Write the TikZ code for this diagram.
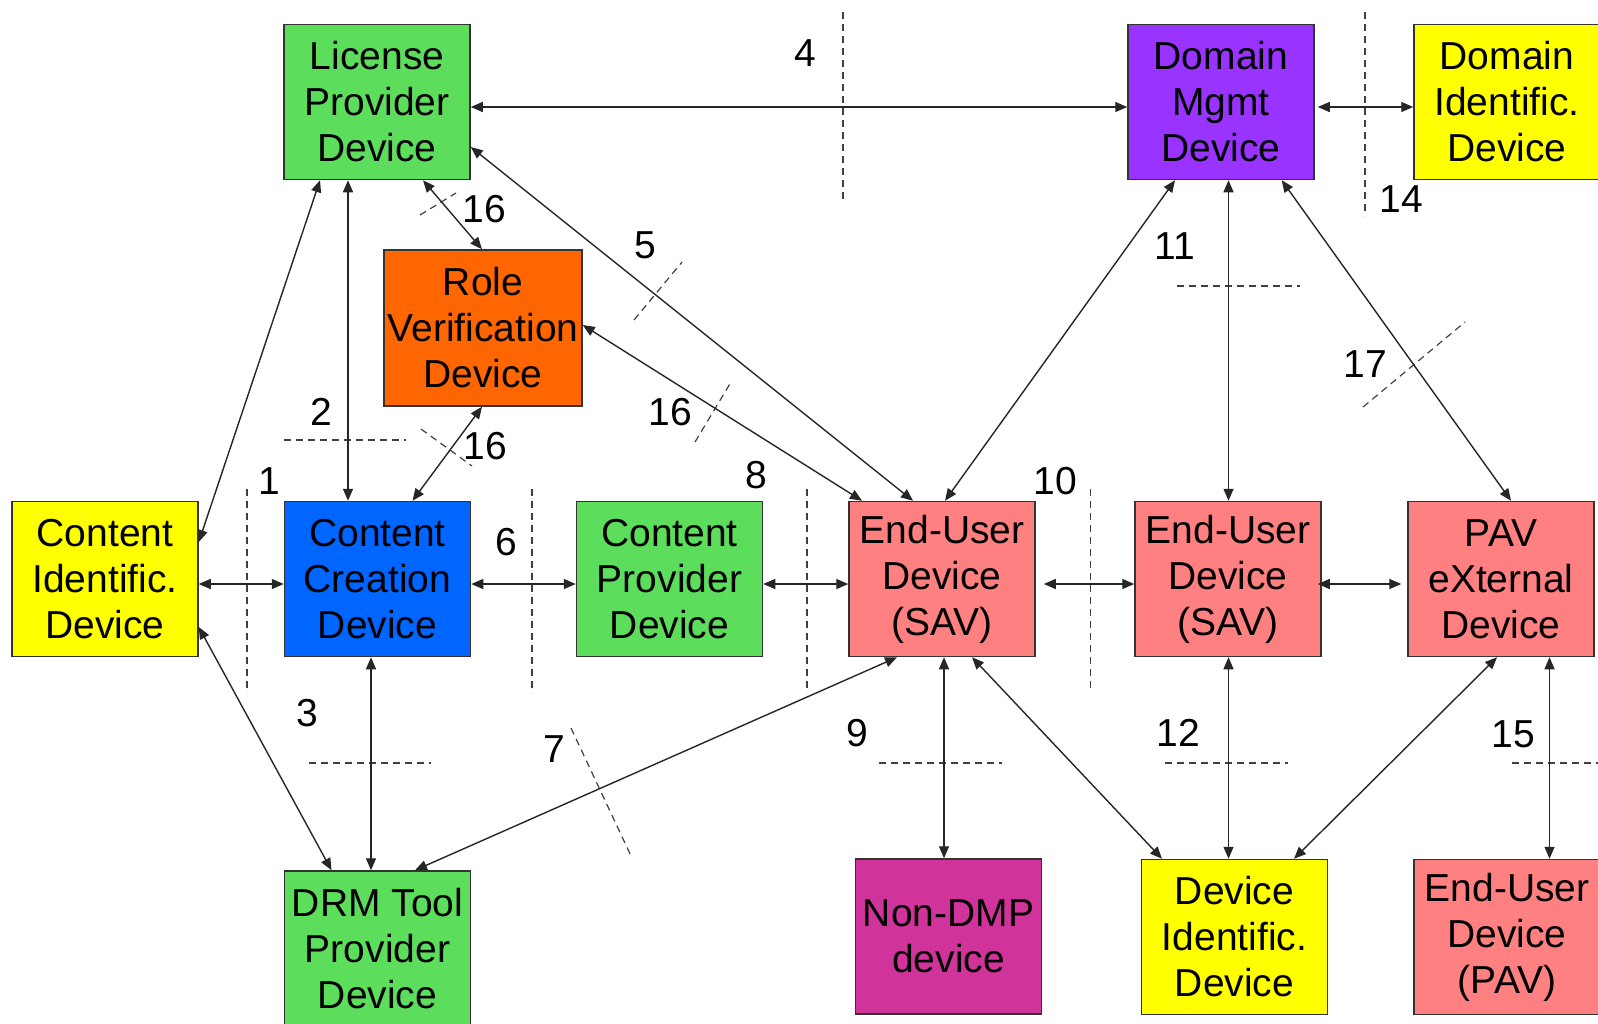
\documentclass[tikz,border=0pt]{standalone}
\usepackage{fontspec}
\setmainfont{Liberation Sans}
\usetikzlibrary{arrows.meta,calc}

\definecolor{devgreen}{RGB}{92,221,92}
\definecolor{devyellow}{RGB}{255,255,0}
\definecolor{devblue}{RGB}{0,102,255}
\definecolor{devorange}{RGB}{255,102,0}
\definecolor{devpurple}{RGB}{153,51,255}
\definecolor{devpink}{RGB}{255,128,128}
\definecolor{devmagenta}{RGB}{208,51,153}
\definecolor{edgegray}{RGB}{51,51,51}

\tikzset{
  device/.style={draw=edgegray, line width=0.75pt, inner sep=0pt, align=center,
    minimum width=93pt, minimum height=77.5pt,
    font=\fontsize{19.5pt}{23pt}\selectfont},
  num/.style={inner sep=0pt, font=\fontsize{19.5pt}{23pt}\selectfont},
  conn/.style={draw=black!85, line width=0.7pt,
    {Triangle[length=6pt,width=5pt]}-{Triangle[length=6pt,width=5pt]}},
  border/.style={draw=black!75, line width=0.6pt, dash pattern=on 3.5pt off 2.5pt},
}

\begin{document}
\begin{tikzpicture}[x=0.5pt,y=-0.5pt]
\useasboundingbox (0,0) rectangle (1598,1023);
\clip (0,0) rectangle (1598,1023);
\fill[white] (0,0) rectangle (1598,1023);

% devices, top row
\node[device, fill=devgreen]  (LP) at (377,102)    {License\\Provider\\Device};
\node[device, fill=devpurple] (DM) at (1221,102) {Domain\\Mgmt\\Device};
\node[device, fill=devyellow] (DI) at (1507,102) {Domain\\Identific.\\Device};
\node[device, fill=devorange, minimum width=99pt, minimum height=78pt] (RV) at (483,328) {Role\\Verification\\Device};

% devices, middle row
\node[device, fill=devyellow] (CI)  at (105,579)   {Content\\Identific.\\Device};
\node[device, fill=devblue]   (CC)  at (377.5,579) {Content\\Creation\\Device};
\node[device, fill=devgreen]  (CP)  at (669.5,579) {Content\\Provider\\Device};
\node[device, fill=devpink]   (EU1) at (942,579)   {End-User\\Device\\(SAV)};
\node[device, fill=devpink]   (EU2) at (1228,579)  {End-User\\Device\\(SAV)};
\node[device, fill=devpink]   (PX)  at (1501,579)  {PAV\\eXternal\\Device};

% devices, bottom row
\node[device, fill=devgreen]   (DRM) at (377.5,948.5) {DRM Tool\\Provider\\Device};
\node[device, fill=devmagenta] (ND)  at (948.5,936.5) {Non-DMP\\device};
\node[device, fill=devyellow]  (DV)  at (1234.5,937)  {Device\\Identific.\\Device};
\node[device, fill=devpink]    (EP)  at (1507,937)    {End-User\\Device\\(PAV)};

% interface boundaries
\draw[border] (843,12) -- (843,202);
\draw[border] (1365,12) -- (1365,216);
\draw[border] (1177,286) -- (1300,286);
\draw[border] (1363,407) -- (1465,322);
\draw[border] (634,320) -- (682,262);
\draw[border] (420,215) -- (456,193);
\draw[border] (695,442) -- (731,382);
\draw[border] (421,429) -- (472,466);
\draw[border] (284,440) -- (406,440);
\draw[border] (247,489) -- (247,693);
\draw[border] (532,489) -- (532,693);
\draw[border] (807,489) -- (807,693);
\draw[border] (1090.5,489) -- (1090.5,692);
\draw[border] (309,763) -- (431,763);
\draw[border] (571,728) -- (632,858);
\draw[border] (879,763) -- (1002,763);
\draw[border] (1165,763) -- (1288,763);
\draw[border] (1512,763) -- (1610,763);

% interface numbers
\node[num] (n1)  at (269,481)   {1};
\node[num] (n2)  at (321,412)   {2};
\node[num] (n3)  at (307,713)   {3};
\node[num] (n4)  at (805,53)    {4};
\node[num] (n5)  at (645,245)   {5};
\node[num] (n6)  at (506.5,542) {6};
\node[num] (n7)  at (554,749)   {7};
\node[num] (n8)  at (756,475)   {8};
\node[num] (n9)  at (857,733)   {9};
\node[num] (n10) at (1055,481)  {10};
\node[num] (n11) at (1175,246)  {11};
\node[num] (n12) at (1178,733)  {12};
\node[num] (n14) at (1401,199)  {14};
\node[num] (n15) at (1513,734)  {15};
\node[num] (n16a) at (484,209)  {16};
\node[num] (n16b) at (670,412)  {16};
\node[num] (n16c) at (485,446)  {16};
\node[num] (n17) at (1365,364)  {17};

% connections
\draw[conn] ($(LP.east)+(0,5)$) -- ($(DM.west)+(0,5)$);
\draw[conn] ($(DM.east)+(3,5)$) -- ($(DI.west)+(0,5)$);
\draw[conn] ($(LP.south)+(-57,0)$) -- ($(CI.east)+(0,-37)$);
\draw[conn] ($(LP.south)+(-29,0)$) -- ($(CC.north)+(-29.5,0)$);
\draw[conn] ($(LP.south)+(46,0)$) -- ($(RV.north)+(-1,0)$);
\draw[conn] ($(LP.east)+(0,45)$) -- ($(EU1.north)+(-29,0)$);
\draw[conn] ($(RV.east)+(0,-3)$) -- ($(EU1.north)+(-80,0)$);
\draw[conn] ($(RV.south)+(-1,0)$) -- ($(CC.north)+(35,0)$);
\draw[conn] ($(CI.east)+(0,5)$) -- ($(CC.west)+(0,5)$);
\draw[conn] ($(CI.east)+(0,48)$) -- ($(DRM.north)+(-46,0)$);
\draw[conn] ($(CC.south)+(-6.5,0)$) -- ($(DRM.north)+(-6.5,0)$);
\draw[conn] ($(CC.east)+(0,5)$) -- ($(CP.west)+(0,5)$);
\draw[conn] ($(CP.east)+(0,5)$) -- ($(EU1.west)+(0,5)$);
\draw[conn] ($(DRM.north)+(37.5,0)$) -- ($(EU1.south)+(-45,0)$);
\draw[conn] ($(EU1.south)+(2,0)$) -- ($(ND.north)+(-4.5,0)$);
\draw[conn] ($(EU1.south)+(30,0)$) -- ($(DV.north)+(-72.5,0)$);
\draw[conn] ($(EU1.east)+(8,5)$) -- ($(EU2.west)+(0,5)$);
\draw[conn] ($(EU2.east)+(-4,5)$) -- ($(PX.west)+(-6,5)$);
\draw[conn] ($(DM.south)+(-46,0)$) -- ($(EU1.north)+(3,0)$);
\draw[conn] ($(DM.south)+(7.5,0)$) -- ($(EU2.north)+(0.5,0)$);
\draw[conn] ($(DM.south)+(60.7,0)$) -- ($(PX.north)+(10,0)$);
\draw[conn] ($(EU2.south)+(0.5,0)$) -- ($(DV.north)+(-6,0)$);
\draw[conn] ($(PX.south)+(-4,0)$) -- ($(DV.north)+(59.5,0)$);
\draw[conn] ($(PX.south)+(48.5,0)$) -- ($(EP.north)+(42.5,0)$);
\end{tikzpicture}
\end{document}
